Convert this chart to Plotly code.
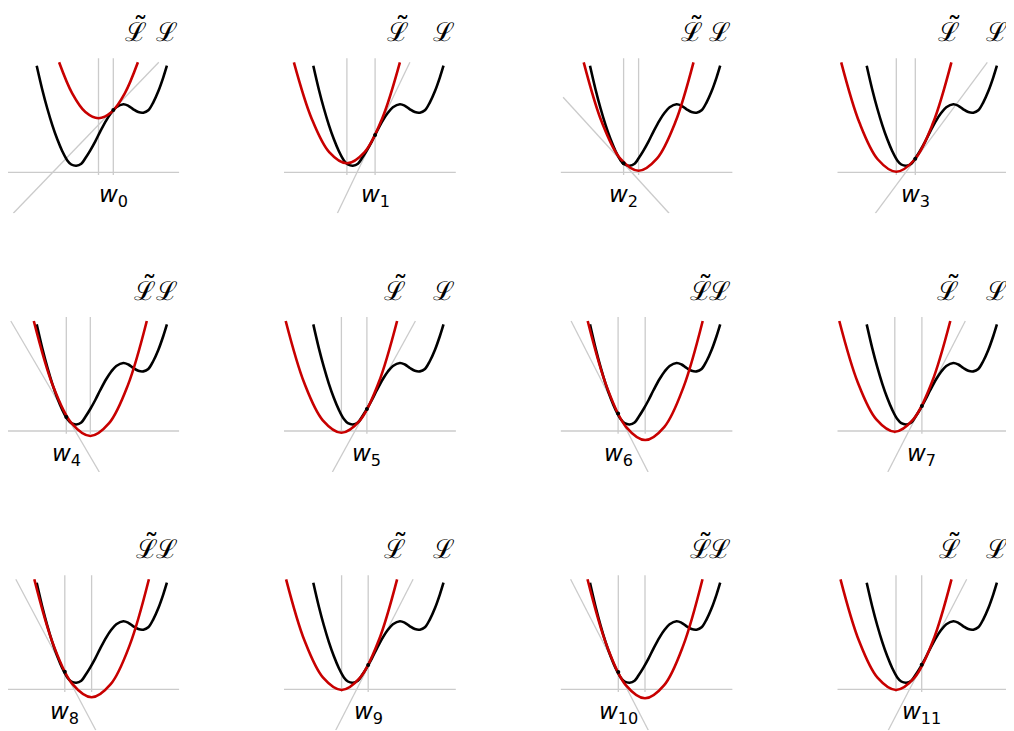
import plotly.graph_objects as go

# loss curve L(w), same in every panel (x in px from panel left, y in px above the axis)
loss_x = [29.4, 35, 40, 45, 50, 55, 60, 64, 69, 74, 78, 83, 88, 93, 99, 104, 109, 116,
          121, 126, 131, 136, 141, 146, 151, 156, 159.6]
loss_y = [106.6, 82.6, 63.8, 47.2, 33, 21.1, 11.9, 7.8, 6.5, 8.5, 14, 22, 31, 41, 52, 59.5, 65, 68,
          66.5, 63, 60.2, 59.6, 62, 70, 81, 95, 106.6]

# iterates w0..w12
w_iter = [106, 91.2, 63, 78, 59, 83, 57.5, 84.6, 57.5, 84.3, 57.7, 84.4, 58.7]
w_loss = [62.3, 37.3, 9, 13.6, 14, 22, 17.5, 25, 17.5, 24.3, 17.2, 24.5]

# quadratic surrogate for each step
red_x = [
    [51.8, 64.9, 78.1, 91.2, 104.3, 117.5, 130.6],
    [10.0, 27.7, 45.3, 63.0, 80.7, 98.3, 116.0],
    [23.1, 41.4, 59.7, 78.0, 96.3, 114.6, 132.9],
    [3.9, 22.3, 40.6, 59.0, 77.4, 95.7, 114.1],
    [26.5, 45.3, 64.2, 83.0, 101.8, 120.7, 139.5],
    [1.8, 20.4, 38.9, 57.5, 76.1, 94.6, 113.2],
    [27.1, 46.3, 65.4, 84.6, 103.8, 122.9, 142.1],
    [2.0, 20.5, 39.0, 57.5, 76.0, 94.5, 113.0],
    [27.0, 46.1, 65.2, 84.3, 103.4, 122.5, 141.6],
    [2.2, 20.7, 39.2, 57.7, 76.2, 94.7, 113.2],
    [26.9, 46.1, 65.2, 84.4, 103.6, 122.7, 141.9],
    [3.2, 21.7, 40.2, 58.7, 77.2, 95.7, 114.2],
]
red_y = [
    [110, 78.9, 60.2, 54, 60.2, 78.9, 110],
    [110, 53.9, 20.2, 9, 20.2, 53.9, 110],
    [110, 49.7, 13.6, 1.5, 13.6, 49.7, 110],
    [110, 49.2, 12.8, 0.6, 12.8, 49.2, 110],
    [110, 46.1, 7.8, -5, 7.8, 46.1, 110],
    [110, 47.9, 10.7, -1.7, 10.7, 47.9, 110],
    [110, 43.9, 4.2, -9, 4.2, 43.9, 110],
    [110, 48.5, 11.6, -0.7, 11.6, 48.5, 110],
    [110, 44.4, 5.1, -8, 5.1, 44.4, 110],
    [110, 48.5, 11.6, -0.7, 11.6, 48.5, 110],
    [110, 43.9, 4.2, -9, 4.2, 43.9, 110],
    [110, 48.5, 11.6, -0.7, 11.6, 48.5, 110],
]

# tangent line at w_k (end points)
tan_x = [[6, 151.5], [53.5, 126], [2.5, 108.5], [38, 150], [3.5, 92], [48.5, 131.5],
         [10.5, 87.5], [50.5, 128], [8.5, 88.5], [51.8, 129.2], [10, 87.7], [51, 129.4]]
tan_y = [[-41, 110], [-41, 110], [75, -41], [-41, 110], [110, -41], [-41, 110],
         [110, -41], [-41, 110], [110, -41], [-41, 110], [110, -41], [-41, 110]]

# page has an 8px body margin, so lay out in page px minus 8
OFF = 8
W, H = 1006, 723
col_left = [7.3, 283.9, 560.6, 837.3]
row_axis = [172.3, 431, 689.3]
PW = 172
YLO, YHI = -41, 115
LBL_Y = 140

GRAY = "#cbcbcb"
RED = "#c80000"
SCRIPT = dict(family="DejaVu Serif", size=26, color="black")

fig = go.Figure()
annos = []
for i in range(12):
    r, c = divmod(i, 4)
    sfx = "" if i == 0 else str(i + 1)
    xr, yr = "x" + sfx, "y" + sfx
    x0 = col_left[c] - OFF
    ay = row_axis[r] - OFF
    dl = max(x0, 0)
    fig.update_layout({
        "xaxis" + sfx: dict(domain=[dl / W, (x0 + PW) / W], range=[dl - x0, PW], visible=False,
                            anchor=yr, fixedrange=True),
        "yaxis" + sfx: dict(domain=[(H - (ay - YLO)) / H, (H - (ay - YHI)) / H], range=[YLO, YHI],
                            visible=False, anchor=xr, fixedrange=True),
    })
    gl = dict(color=GRAY, width=1.3)
    # axis line
    fig.add_trace(go.Scatter(x=[0, PW], y=[0, 0], mode="lines", line=gl, xaxis=xr, yaxis=yr))
    # verticals at w_k and w_{k+1}
    for wv in (w_iter[i], w_iter[i + 1]):
        fig.add_trace(go.Scatter(x=[wv, wv], y=[-2.7, 114], mode="lines", line=gl, xaxis=xr, yaxis=yr))
    # tangent
    fig.add_trace(go.Scatter(x=tan_x[i], y=tan_y[i], mode="lines", line=gl, xaxis=xr, yaxis=yr))
    # loss
    fig.add_trace(go.Scatter(x=loss_x, y=loss_y, mode="lines", line=dict(color="black", width=2.6, shape="spline"),
                             xaxis=xr, yaxis=yr))
    # surrogate
    fig.add_trace(go.Scatter(x=red_x[i], y=red_y[i], mode="lines", line=dict(color=RED, width=2.6, shape="spline"),
                             xaxis=xr, yaxis=yr))
    fig.add_trace(go.Scatter(x=[w_iter[i]], y=[w_loss[i]], mode="markers",
                             marker=dict(color="black", size=4), xaxis=xr, yaxis=yr))

    annos.append(dict(x=w_iter[i], y=-24, xref=xr, yref=yr, text="<i>w</i><sub>%d</sub>" % i,
                      showarrow=False, xanchor="center", yanchor="middle",
                      font=dict(family="DejaVu Sans", size=23, color="black")))
    ly = (H - (ay - LBL_Y)) / H
    annos.append(dict(x=red_x[i][-1] - 2, y=ly, xref=xr, yref="paper", text="\u2112",
                      showarrow=False, xanchor="center", yanchor="middle", font=SCRIPT))
    annos.append(dict(x=red_x[i][-1] + 3, y=(H - (ay - LBL_Y - 5)) / H, xref=xr, yref="paper", text="\u02dc",
                      showarrow=False, xanchor="center", yanchor="middle",
                      font=dict(family="DejaVu Serif", size=30, color="black")))
    annos.append(dict(x=loss_x[-1], y=ly, xref=xr, yref="paper", text="\u2112",
                      showarrow=False, xanchor="center", yanchor="middle", font=SCRIPT))

fig.update_layout(width=W, height=H, margin=dict(l=0, r=0, t=0, b=0), showlegend=False,
                  plot_bgcolor="white", paper_bgcolor="white", annotations=annos)
fig.write_html("out.html")
